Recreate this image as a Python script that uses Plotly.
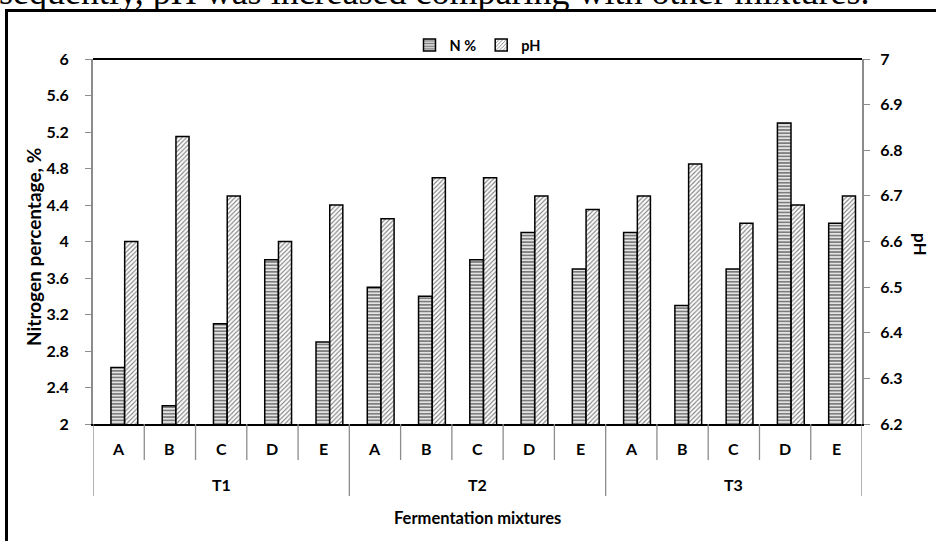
import plotly.graph_objects as go

# Treatment groups and fermentation mixtures
groups = ["T1", "T2", "T3"]
mixtures = ["A", "B", "C", "D", "E"]

# Nitrogen percentage (left axis) and pH (right axis) per mixture, in group order
n_pct = [2.62, 2.20, 3.10, 3.80, 2.90,
         3.50, 3.40, 3.80, 4.10, 3.70,
         4.10, 3.30, 3.70, 5.30, 4.20]
ph = [6.60, 6.83, 6.70, 6.60, 6.68,
      6.65, 6.74, 6.74, 6.70, 6.67,
      6.70, 6.77, 6.64, 6.68, 6.70]

W, H = 936, 541
PL, PR, PT, PB = 93, 862, 59, 424  # plot-area pixel edges


def px_x(x):
    return (x - PL) / (PR - PL)


def px_y(y):
    return (PB - y) / (PB - PT)


n_cat = len(groups) * len(mixtures)
xs = list(range(n_cat))
cat_labels = [m for _ in groups for m in mixtures]

FONT = "Lato"


def bold(size):
    return dict(family=FONT, size=size, color="black", weight="bold")


fig = go.Figure()
fig.add_trace(go.Bar(
    x=xs, y=n_pct, name="N %", width=0.265, offset=-0.15,
    marker=dict(color="white", line=dict(color="black", width=1.5),
                pattern=dict(shape="-", fgcolor="black", bgcolor="#e4e4e4",
                             size=3.3, solidity=0.45)),
    yaxis="y",
))
fig.add_trace(go.Bar(
    x=xs, y=ph, name="pH", width=0.255, offset=0.118,
    marker=dict(color="white", line=dict(color="black", width=1.5),
                pattern=dict(shape="/", fgcolor="black", bgcolor="white",
                             size=3.2, solidity=0.35)),
    yaxis="y2",
))

shapes = []
# outer chart frame
shapes.append(dict(type="rect", xref="paper", yref="paper",
                   x0=px_x(6.5), x1=px_x(960), y0=px_y(580), y1=px_y(10.5),
                   line=dict(color="black", width=3), fillcolor="rgba(0,0,0,0)"))
# top edge of the plot area
shapes.append(dict(type="line", xref="paper", yref="paper",
                   x0=0, x1=1, y0=1, y1=1, line=dict(color="black", width=2)))
# category boundary lines under the axis
for i in range(n_cat + 1):
    xb = i - 0.5
    is_group = i % len(mixtures) == 0
    shapes.append(dict(type="line", xref="x", yref="paper",
                       x0=xb, x1=xb, y0=0, y1=px_y(496 if is_group else 460),
                       line=dict(color="#8c8c8c", width=1.3)))

annotations = []
for i, lab in enumerate(cat_labels):
    annotations.append(dict(x=i, y=px_y(448), xref="x", yref="paper", text=lab,
                            xanchor="center", yanchor="middle",
                            showarrow=False, font=bold(16)))
for g, name in enumerate(groups):
    annotations.append(dict(x=g * len(mixtures) + (len(mixtures) - 1) / 2, y=px_y(484),
                            xref="x", yref="paper", text=name, showarrow=False,
                            xanchor="center", yanchor="middle", font=bold(16)))
annotations.append(dict(x=0.5, y=px_y(518), xref="paper", yref="paper",
                        text="Fermentation mixtures", showarrow=False,
                        xanchor="center", yanchor="middle", font=bold(16.5)))
annotations.append(dict(x=px_x(33), y=px_y(247), xref="paper", yref="paper",
                        text="Nitrogen percentage, %", textangle=-90, showarrow=False,
                        xanchor="center", yanchor="middle", font=bold(19)))
annotations.append(dict(x=px_x(921), y=px_y(245), xref="paper", yref="paper",
                        text="pH", textangle=90, showarrow=False,
                        xanchor="center", yanchor="middle", font=bold(17)))
# paragraph line running above the chart frame
annotations.append(dict(x=px_x(871), y=px_y(14), xref="paper", yref="paper",
                        xanchor="right", yanchor="bottom",
                        text="Consequently, pH was increased comparing with other mixtures.",
                        showarrow=False,
                        font=dict(family="Liberation Serif", size=36, color="black")))

tickfont = bold(16)

fig.update_layout(
    width=W, height=H,
    margin=dict(l=PL, r=W - PR, t=PT, b=H - PB),
    paper_bgcolor="white", plot_bgcolor="white",
    barmode="overlay",
    showlegend=True,
    legend=dict(orientation="h", x=0.5, xanchor="center", y=px_y(45), yanchor="middle",
                font=bold(14.5), itemwidth=30, bgcolor="rgba(0,0,0,0)"),
    xaxis=dict(range=[-0.5, n_cat - 0.5], showticklabels=False, ticks="",
               showgrid=False, zeroline=False, showline=True,
               linecolor="black", linewidth=2),
    yaxis=dict(range=[2, 6], tick0=2, dtick=0.4, showgrid=False, zeroline=False,
               showline=True, linecolor="#8c8c8c", linewidth=2,
               ticks="outside", ticklen=6, tickcolor="#8c8c8c", tickwidth=1,
               ticklabelstandoff=13, tickfont=tickfont),
    yaxis2=dict(range=[6.2, 7], tick0=6.2, dtick=0.1, overlaying="y", side="right",
                showgrid=False, zeroline=False, showline=True, linecolor="#8c8c8c",
                linewidth=2, ticks="outside", ticklen=6, tickcolor="#8c8c8c",
                tickwidth=1, ticklabelstandoff=7, tickfont=tickfont),
    shapes=shapes,
    annotations=annotations,
)

fig.write_html("out.html")
